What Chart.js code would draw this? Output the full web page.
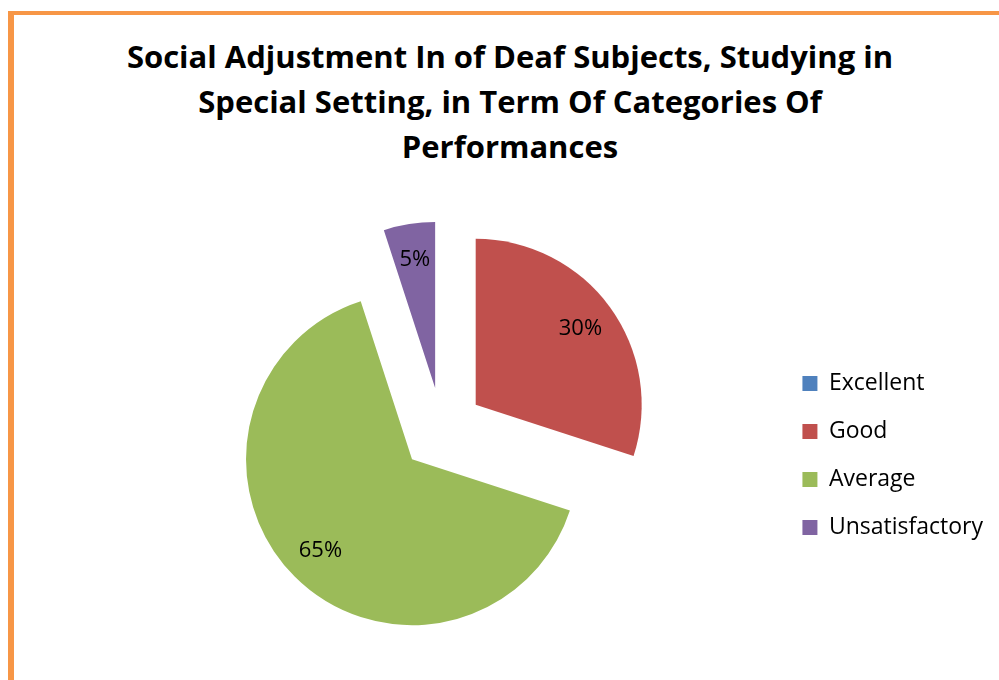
<!DOCTYPE html>
<html lang="en">
<head>
    <meta charset="UTF-8">
    <title>Social Adjustment - Special Setting</title>
    <script src="https://cdn.jsdelivr.net/npm/chart.js@4"></script>
    <style>
        html, body { margin: 0; padding: 0; background: #fff; overflow: hidden; }
        body { width: 999px; height: 680px; position: relative; }
        #frame {
            position: absolute; left: 8px; top: 11px; width: 1000px; height: 700px;
            border-left: 6px solid #F79646; border-top: 4px solid #F79646;
        }
        #titulo {
            position: absolute; left: 20px; top: 34px; width: 980px; margin: 0;
            text-align: center; font-family: "Open Sans", sans-serif; font-weight: bold;
            font-size: 31px; line-height: 45px; color: #000;
        }
        #chartBox { position: absolute; left: 14px; top: 175px; width: 985px; height: 505px; }
    </style>
</head>
<body>

<div id="frame"></div>
<h2 id="titulo">Social Adjustment In of Deaf Subjects, Studying in<br>Special Setting, in Term Of Categories Of<br>Performances</h2>
<div id="chartBox"><canvas id="pieChart"></canvas></div>

<script>
// dados do gráfico
const categories = ['Excellent', 'Good', 'Average', 'Unsatisfactory'];
const percentValues = [0, 30, 65, 5];
const sliceColors = ['#4F81BD', '#C0504D', '#9BBB59', '#8064A2'];

const explode = 168;   // Chart.js desloca offset/4 px
const pieRadius = 166;

// o Chart.js aumenta o raio / encolhe o ângulo das fatias deslocadas; desfaz isso
const keepRadius = {
    id: 'keepRadius',
    beforeDatasetsDraw(chart) {
        const meta = chart.getDatasetMeta(0);
        meta.data.forEach((arc, i) => {
            if (!percentValues[i]) return;
            const circ = 2 * Math.PI * percentValues[i] / 100;
            const off = (explode / 4) * (1 - Math.sin(Math.min(Math.PI, circ)));
            arc.outerRadius = pieRadius - off;
            const a = (off / Math.PI) / pieRadius / 2;
            let start = -Math.PI / 2;
            for (let k = 0; k < i; k++) start += 2 * Math.PI * percentValues[k] / 100;
            arc.startAngle = start - a;
            arc.endAngle = start + circ + a;
        });
    }
};

// rótulos de porcentagem dentro das fatias
const pctLabels = {
    id: 'pctLabels',
    afterDatasetsDraw(chart) {
        const ctx = chart.ctx;
        const meta = chart.getDatasetMeta(0);
        ctx.save();
        ctx.font = '22px "Open Sans", sans-serif';
        ctx.fillStyle = '#000';
        ctx.textAlign = 'center';
        ctx.textBaseline = 'middle';
        meta.data.forEach((arc, i) => {
            const v = percentValues[i];
            if (!v) return;
            const mid = (arc.startAngle + arc.endAngle) / 2;
            const d = explode / 4 + pieRadius * 0.78;
            ctx.fillText(v + '%', arc.x + Math.cos(mid) * d, arc.y + Math.sin(mid) * d);
        });
        ctx.restore();
    }
};

new Chart(document.getElementById('pieChart'), {
    type: 'pie',
    data: {
        labels: categories,
        datasets: [{
            data: percentValues,
            backgroundColor: sliceColors,
            borderWidth: 0,
            offset: explode,
            hoverOffset: explode,
            radius: pieRadius,
            clip: false
        }]
    },
    options: {
        responsive: true,
        maintainAspectRatio: false,
        animation: false,
        events: [],
        layout: { padding: { left: 92, right: 6, top: 120, bottom: 116 } },
        plugins: {
            tooltip: { enabled: false },
            legend: {
                position: 'right',
                align: 'end',
                labels: {
                    boxWidth: 15,
                    boxHeight: 15,
                    padding: 25,
                    color: '#000',
                    font: { family: '"Open Sans", sans-serif', size: 23 }
                }
            }
        }
    },
    plugins: [keepRadius, pctLabels]
});
</script>
</body>
</html>
